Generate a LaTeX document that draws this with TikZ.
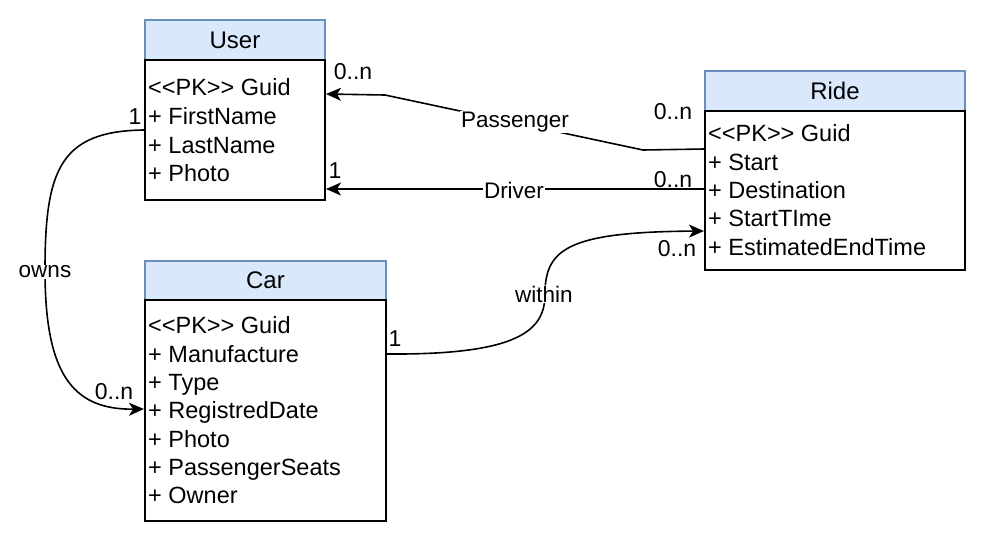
\documentclass[tikz,border=0pt]{standalone}
\usepackage{fontspec}
\setmainfont{Liberation Sans}
\usetikzlibrary{arrows.meta,calc}
\definecolor{hdrfill}{HTML}{DAE8FC}
\definecolor{hdrline}{HTML}{6C8EBF}
\newcommand{\pkmark}{<\kern0pt<PK>\kern0pt>}
\tikzset{
  hdr/.style={draw=hdrline, fill=hdrfill, line width=1.5pt, inner sep=0pt, font=\fontsize{24}{28}\selectfont},
  bodybox/.style={draw=black, fill=white, line width=2pt, inner sep=0pt},
  row/.style={anchor=base west, inner sep=0pt, font=\fontsize{23.5}{28}\selectfont},
  lbl/.style={inner sep=1pt, font=\fontsize{23}{27}\selectfont},
  elbl/.style={fill=white, inner sep=1pt, font=\fontsize{22.5}{27}\selectfont},
  conn/.style={line width=1.6pt, -{Stealth[length=15pt,width=13pt,inset=4pt]}},
}
\begin{document}
\begin{tikzpicture}[x=1pt,y=-1pt]
\useasboundingbox (0,0) rectangle (986,542);
% User
\node[hdr, minimum width=180pt, minimum height=40pt] (uh) at (235,40) {User};
\node[bodybox, minimum width=180pt, minimum height=140pt] (ub) at (235,130) {};
\node[row] (u1) at (148,95.5) {\pkmark{} Guid};
\node[row] (u2) at (148,124) {+ FirstName};
\node[row] (u3) at (148,153) {+ LastName};
\node[row] (u4) at (148,181) {+ Photo};
% Car
\node[hdr, minimum width=241pt, minimum height=39pt] (ch) at (265.5,280.5) {Car};
\node[bodybox, minimum width=241pt, minimum height=221pt] (cb) at (265.5,410.5) {};
\node[row] (c1) at (148,333.5) {\pkmark{} Guid};
\node[row] (c2) at (148,362) {+ Manufacture};
\node[row] (c3) at (148,390) {+ Type};
\node[row] (c4) at (148,418.5) {+ RegistredDate};
\node[row] (c5) at (148,447) {+ Photo};
\node[row] (c6) at (148,475) {+ PassengerSeats};
\node[row] (c7) at (148,503.5) {+ Owner};
% Ride
\node[hdr, minimum width=260pt, minimum height=40pt] (rh) at (835,91) {Ride};
\node[bodybox, minimum width=260pt, minimum height=159pt] (rb) at (835,190.5) {};
\node[row] (r1) at (708,141.5) {\pkmark{} Guid};
\node[row] (r2) at (708,170) {+ Start};
\node[row] (r3) at (708,198) {+ Destination};
\node[row] (r4) at (708,226.5) {+ StartTIme};
\node[row] (r5) at (708,255) {+ EstimatedEndTime};
% Passenger
\coordinate (pA) at (643,150);
\coordinate (pB) at (385,95);
\draw[conn] ($(rb.north west)+(0,39)$) -- (pA) -- (pB) -- ($(ub.north east)+(0,35)$);
\node[elbl] (pl) at (515,122) {Passenger};
\node[lbl] (p1) at (353,72) {0..n};
\node[lbl] (p2) at (673,112) {0..n};
% Driver
\draw[conn] ($(rb.north west)+(0,79)$) -- ($(ub.north east)+(0,130)$);
\node[elbl] (dl) at (514,190) {Driver};
\node[lbl] (d1) at (335,171) {1};
\node[lbl] (d2) at (673,180) {0..n};
% owns
\coordinate (oM) at (45,270);
\draw[conn] ($(ub.north west)+(0,71)$) .. controls (60,131) and (45,170) .. (oM)
  .. controls (45,370) and (70,410) .. ($(cb.north west)+(0,110)$);
\node[elbl] (ol) at (45,272) {owns};
\node[lbl] (o1) at (135,117) {1};
\node[lbl] (o2) at (114,392) {0..n};
% within
\coordinate (wM) at (545,294);
\draw[conn] ($(cb.north east)+(0,55)$) .. controls (520,355) and (545,330) .. (wM)
  .. controls (545,248) and (570,232) .. ($(rb.north west)+(0,121)$);
\node[elbl] (wl) at (544,294) {within};
\node[lbl] (w1) at (395,339) {1};
\node[lbl] (w2) at (677,249) {0..n};
\end{tikzpicture}
\end{document}
